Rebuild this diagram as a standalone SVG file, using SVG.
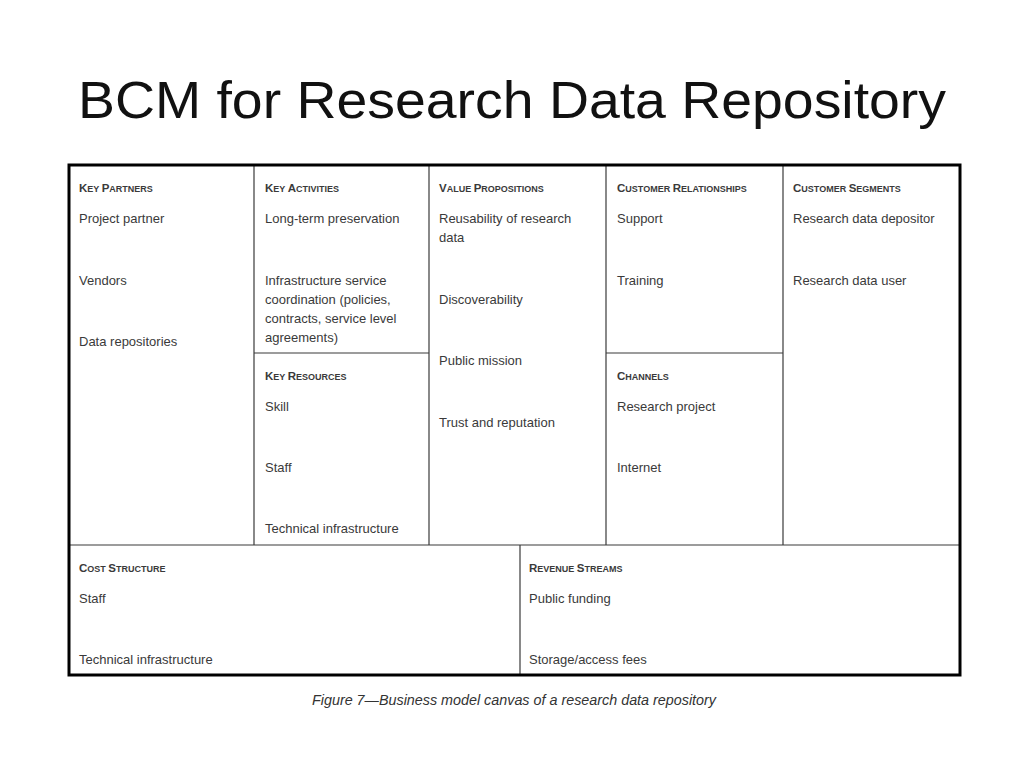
<svg xmlns="http://www.w3.org/2000/svg" width="1024" height="768" viewBox="0 0 1024 768">
<style>
.t{font-family:"Liberation Sans",Arial,sans-serif;font-size:13px;fill:#3a3a3a}
.h{font-family:"Liberation Sans",Arial,sans-serif;font-weight:bold;fill:#3a3a3a;font-size:11.5px}
.s{font-size:9px}
.ln{stroke:#3a3a3a;stroke-width:1.2;fill:none}
</style>
<rect width="1024" height="768" fill="#fff"/>
<text x="78" y="118" font-family="Liberation Sans,Arial,sans-serif" font-size="52" fill="#111" textLength="868" lengthAdjust="spacingAndGlyphs">BCM for Research Data Repository</text>
<g id="grid">
<line class="ln" x1="254" y1="165" x2="254" y2="545"/>
<line class="ln" x1="429" y1="165" x2="429" y2="545"/>
<line class="ln" x1="606" y1="165" x2="606" y2="545"/>
<line class="ln" x1="783" y1="165" x2="783" y2="545"/>
<line class="ln" x1="254" y1="353" x2="429" y2="353"/>
<line class="ln" x1="606" y1="353" x2="783" y2="353"/>
<line class="ln" x1="69" y1="545" x2="960" y2="545"/>
<line class="ln" x1="520" y1="545" x2="520" y2="675"/>
<rect x="69" y="165" width="891" height="510" fill="none" stroke="#000" stroke-width="3"/>
</g>
<g id="key-partners">
<text class="h" x="79" y="192">K<tspan class="s">EY </tspan>P<tspan class="s">ARTNERS</tspan></text>
<text class="t" x="79" y="223">Project partner</text>
<text class="t" x="79" y="285">Vendors</text>
<text class="t" x="79" y="346">Data repositories</text>
</g>
<g id="key-activities">
<text class="h" x="265" y="192">K<tspan class="s">EY </tspan>A<tspan class="s">CTIVITIES</tspan></text>
<text class="t" x="265" y="223">Long-term preservation</text>
<text class="t" x="265" y="285">Infrastructure service</text>
<text class="t" x="265" y="304">coordination (policies,</text>
<text class="t" x="265" y="323">contracts, service level</text>
<text class="t" x="265" y="342">agreements)</text>
</g>
<g id="key-resources">
<text class="h" x="265" y="380">K<tspan class="s">EY </tspan>R<tspan class="s">ESOURCES</tspan></text>
<text class="t" x="265" y="411">Skill</text>
<text class="t" x="265" y="472">Staff</text>
<text class="t" x="265" y="533">Technical infrastructure</text>
</g>
<g id="value-propositions">
<text class="h" x="439" y="192">V<tspan class="s">ALUE </tspan>P<tspan class="s">ROPOSITIONS</tspan></text>
<text class="t" x="439" y="223">Reusability of research</text>
<text class="t" x="439" y="242">data</text>
<text class="t" x="439" y="304">Discoverability</text>
<text class="t" x="439" y="365">Public mission</text>
<text class="t" x="439" y="427">Trust and reputation</text>
</g>
<g id="customer-relationships">
<text class="h" x="617" y="192">C<tspan class="s">USTOMER </tspan>R<tspan class="s">ELATIONSHIPS</tspan></text>
<text class="t" x="617" y="223">Support</text>
<text class="t" x="617" y="285">Training</text>
</g>
<g id="channels">
<text class="h" x="617" y="380">C<tspan class="s">HANNELS</tspan></text>
<text class="t" x="617" y="411">Research project</text>
<text class="t" x="617" y="472">Internet</text>
</g>
<g id="customer-segments">
<text class="h" x="793" y="192">C<tspan class="s">USTOMER </tspan>S<tspan class="s">EGMENTS</tspan></text>
<text class="t" x="793" y="223">Research data depositor</text>
<text class="t" x="793" y="285">Research data user</text>
</g>
<g id="cost-structure">
<text class="h" x="79" y="572">C<tspan class="s">OST </tspan>S<tspan class="s">TRUCTURE</tspan></text>
<text class="t" x="79" y="603">Staff</text>
<text class="t" x="79" y="664">Technical infrastructure</text>
</g>
<g id="revenue-streams">
<text class="h" x="529" y="572">R<tspan class="s">EVENUE </tspan>S<tspan class="s">TREAMS</tspan></text>
<text class="t" x="529" y="603">Public funding</text>
<text class="t" x="529" y="664">Storage/access fees</text>
</g>
<text x="312" y="705" font-family="Liberation Sans,Arial,sans-serif" font-style="italic" font-size="14" fill="#333" textLength="404" lengthAdjust="spacingAndGlyphs">Figure 7—Business model canvas of a research data repository</text>
</svg>
